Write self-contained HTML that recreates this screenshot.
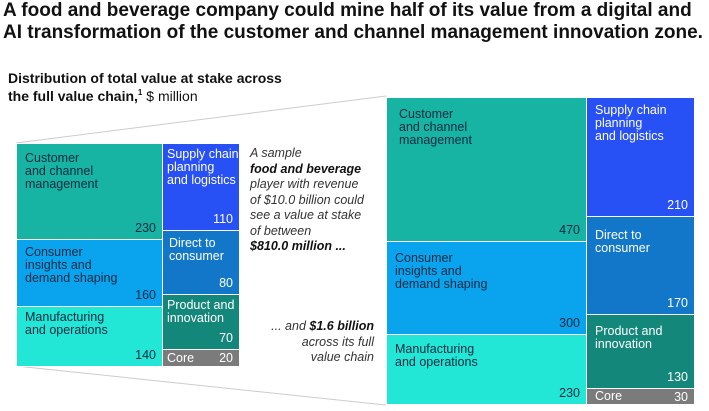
<!DOCTYPE html>
<html><head><style>
body{margin:0;width:709px;height:411px;background:#fff;font-family:"Liberation Sans",sans-serif;position:relative;overflow:hidden;color:#111}
.a{position:absolute}
.b{position:absolute;box-sizing:border-box;font-size:12.5px;line-height:13px;border:1px solid #fff}
.b .l{position:absolute;left:8px;top:8px}
.b .v{position:absolute;right:6px;bottom:4px}
.w{color:#fff}.d{color:#0a2a40}
.c1{background:#17b3a3}.c2{background:#0aa3ee}.c3{background:#22e6d6}.c4{background:#2750f5}.c5{background:#1377c9}.c6{background:#14877b}.c7{background:#7b7b7b}
</style></head><body>
<div class="a" style="left:3px;top:0px;font-size:19px;font-weight:bold;line-height:22px;color:#111;white-space:nowrap">A food and beverage company could mine half of its value from a digital and<br>AI transformation of the customer and channel management innovation zone.</div>
<div class="a" style="left:8px;top:69px;font-size:14px;line-height:18px;font-weight:bold;white-space:nowrap">Distribution of total value at stake across<br>the full value chain,<span style="font-size:8px;position:relative;top:-6px">1</span> <span style="font-weight:normal">$ million</span></div>
<svg class="a" style="left:0;top:0" width="709" height="411"><line x1="16" y1="143" x2="386" y2="96" stroke="#ccc"/><line x1="16" y1="366" x2="386" y2="405" stroke="#ccc"/></svg>

<div class="b c1 d" style="left:16px;top:143px;width:147px;height:97px"><span class="l">Customer<br>and channel<br>management</span><span class="v">230</span></div>
<div class="b c2 d" style="left:16px;top:239px;width:147px;height:68px"><span class="l" style="top:6px">Consumer<br>insights and<br>demand shaping</span><span class="v">160</span></div>
<div class="b c3 d" style="left:16px;top:306px;width:147px;height:61px"><span class="l" style="top:4px">Manufacturing<br>and operations</span><span class="v">140</span></div>
<div class="b c4 w" style="left:162px;top:143px;width:78px;height:88px"><span class="l" style="left:4px;top:4px">Supply chain<br>planning<br>and logistics</span><span class="v">110</span></div>
<div class="b c5 w" style="left:162px;top:230px;width:78px;height:65px"><span class="l" style="left:6px;top:6px">Direct to<br>consumer</span><span class="v">80</span></div>
<div class="b c6 w" style="left:162px;top:294px;width:78px;height:56px"><span class="l" style="left:4px;top:4px">Product and<br>innovation</span><span class="v">70</span></div>
<div class="b c7 w" style="left:162px;top:349px;width:78px;height:18px"><span class="l" style="left:4px;top:2px">Core</span><span class="v" style="bottom:1px">20</span></div>

<div class="a" style="left:250px;top:146px;font-size:12.5px;line-height:15.5px;font-style:italic;color:#333;white-space:nowrap">A sample<br><b style="color:#111">food and beverage</b><br>player with revenue<br>of $10.0 billion could<br>see a value at stake<br>of between<br><b style="color:#111">$810.0 million ...</b></div>
<div class="a" style="left:240px;top:319px;width:134px;text-align:right;font-size:12.5px;line-height:15.5px;font-style:italic;color:#333">... and <b style="color:#111">$1.6 billion</b><br>across its full<br>value chain</div>

<div class="b c1 d" style="left:386px;top:97px;width:201px;height:145px"><span class="l" style="left:12px;top:10px">Customer<br>and channel<br>management</span><span class="v">470</span></div>
<div class="b c2 d" style="left:386px;top:241px;width:201px;height:94px"><span class="l" style="top:10px">Consumer<br>insights and<br>demand shaping</span><span class="v">300</span></div>
<div class="b c3 d" style="left:386px;top:334px;width:201px;height:71px"><span class="l" style="top:8px">Manufacturing<br>and operations</span><span class="v">230</span></div>
<div class="b c4 w" style="left:586px;top:97px;width:109px;height:120px"><span class="l" style="top:6px">Supply chain<br>planning<br>and logistics</span><span class="v">210</span></div>
<div class="b c5 w" style="left:586px;top:216px;width:109px;height:99px"><span class="l" style="top:12px">Direct to<br>consumer</span><span class="v">170</span></div>
<div class="b c6 w" style="left:586px;top:314px;width:109px;height:75px"><span class="l" style="top:10px">Product and<br>innovation</span><span class="v">130</span></div>
<div class="b c7 w" style="left:586px;top:388px;width:109px;height:17px"><span class="l" style="top:1px">Core</span><span class="v" style="bottom:0px">30</span></div>
</body></html>
